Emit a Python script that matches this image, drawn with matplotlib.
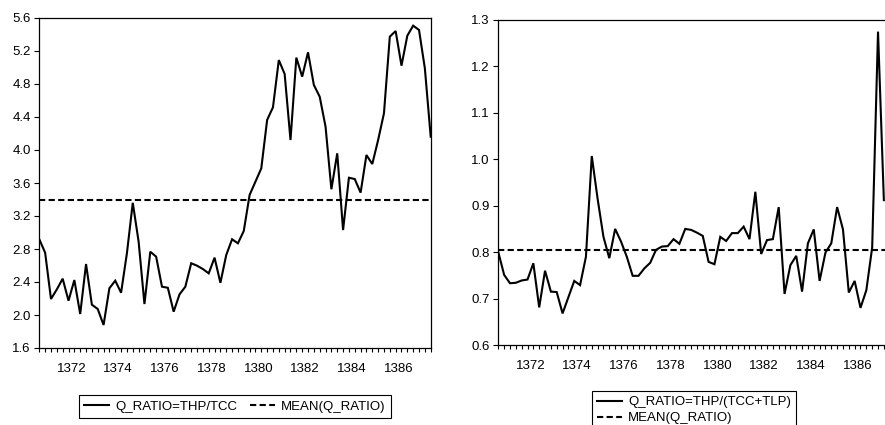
import matplotlib
matplotlib.use("Agg")
import matplotlib.pyplot as plt
import numpy as np

plt.rcParams['font.family'] = ['Liberation Sans', 'DejaVu Sans']

# ---- data (quarterly, 1371Q1 onward) ----
years = [1372, 1374, 1376, 1378, 1380, 1382, 1384, 1386]
first_year = 1371

q_ratio_tcc = [2.918, 2.755, 2.194, 2.31, 2.44, 2.173, 2.424, 2.012, 2.618, 2.125,
               2.073, 1.879, 2.324, 2.416, 2.27, 2.75, 3.36, 2.89, 2.133, 2.767,
               2.707, 2.343, 2.33, 2.04, 2.25, 2.343, 2.627, 2.598, 2.557, 2.505,
               2.695, 2.39, 2.727, 2.918, 2.869, 3.018, 3.455, 3.616, 3.778, 4.364,
               4.518, 5.09, 4.921, 4.121, 5.12, 4.889, 5.184, 4.788, 4.646, 4.283,
               3.524, 3.96, 3.03, 3.664, 3.648, 3.483, 3.939, 3.83, 4.121, 4.445,
               5.374, 5.442, 5.022, 5.386, 5.507, 5.455, 4.99, 4.161]
mean_tcc = 3.40

q_ratio_tcc_tlp = [0.800, 0.751, 0.733, 0.734, 0.739, 0.741, 0.776, 0.681, 0.760, 0.715,
                   0.714, 0.668, 0.703, 0.738, 0.729, 0.790, 1.007, 0.915, 0.833, 0.787,
                   0.850, 0.823, 0.790, 0.749, 0.749, 0.765, 0.777, 0.805, 0.812, 0.813,
                   0.828, 0.818, 0.850, 0.848, 0.842, 0.835, 0.779, 0.774, 0.833, 0.824,
                   0.841, 0.841, 0.855, 0.828, 0.930, 0.796, 0.826, 0.828, 0.897, 0.710,
                   0.772, 0.792, 0.715, 0.819, 0.849, 0.738, 0.799, 0.819, 0.897, 0.849,
                   0.713, 0.738, 0.680, 0.718, 0.810, 1.275, 0.912]
mean_tcc_tlp = 0.805

label_left = 'Q_RATIO=THP/TCC'
label_right = 'Q_RATIO=THP/(TCC+TLP)'
label_mean = 'MEAN(Q_RATIO)'

left_yticks = [1.6, 2.0, 2.4, 2.8, 3.2, 3.6, 4.0, 4.4, 4.8, 5.2, 5.6]
right_yticks = [0.6, 0.7, 0.8, 0.9, 1.0, 1.1, 1.2, 1.3]

W, H = 885, 425
fig = plt.figure(figsize=(W / 100, H / 100), dpi=100)
ax1 = fig.add_axes([39.3 / W, (H - 348) / H, 391.4 / W, 330 / H])
ax2 = fig.add_axes([498.3 / W, (H - 345) / H, 391.4 / W, 325 / H])

n_quarters = 68
label_pos = [(y - first_year) * 4 + 1.5 for y in years]

def style(ax, vals, mean, lab, yticks, ncol, anchor_y):
    x = np.arange(len(vals))
    ax.plot(x, vals, color='black', lw=1.5, label=lab, solid_joinstyle='miter')
    ax.axhline(mean, color='black', lw=1.5, ls=(0, (3, 1.6)), label=label_mean)
    ax.set_xlim(0, n_quarters - 1)
    ax.set_ylim(yticks[0], yticks[-1])
    ax.set_yticks(yticks)
    ax.set_yticklabels([f'{v:.1f}' for v in yticks])
    ax.set_xticks(label_pos)
    ax.set_xticklabels([str(y) for y in years])
    ax.set_xticks(np.arange(n_quarters), minor=True)
    ax.tick_params(axis='x', which='major', length=0, pad=11, labelsize=9.5)
    ax.tick_params(axis='x', which='minor', length=3, width=0.8, direction='out')
    ax.tick_params(axis='y', length=3.6, width=0.8, pad=2.5, labelsize=9.5)
    for s in ax.spines.values():
        s.set_linewidth(0.9)
        s.set_color('black')
    leg = ax.legend(loc='upper center', bbox_to_anchor=(0.5, anchor_y), ncol=ncol,
                    frameon=True, fancybox=False, edgecolor='black', framealpha=1,
                    fontsize=9.5, handlelength=1.9, handletextpad=0.45,
                    columnspacing=1.0, borderpad=0.4, borderaxespad=0,
                    labelspacing=0.3)
    leg.get_frame().set_linewidth(0.8)

style(ax1, q_ratio_tcc, mean_tcc, label_left, left_yticks, 2, -47 / 330)
style(ax2, q_ratio_tcc_tlp, mean_tcc_tlp, label_right, right_yticks, 1, -45.7 / 325)

fig.savefig('out.png', dpi=100)
